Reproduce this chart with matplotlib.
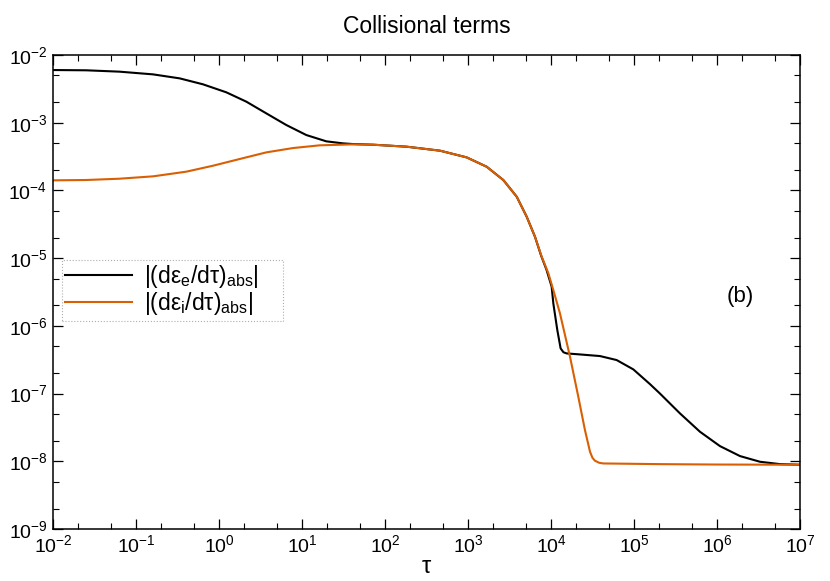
import numpy as np
import matplotlib
matplotlib.use("Agg")
import matplotlib.pyplot as plt
from matplotlib.ticker import LogLocator, NullFormatter

plt.rcParams['font.family'] = ['Liberation Sans', 'DejaVu Sans']
plt.rcParams['mathtext.fontset'] = 'custom'
plt.rcParams['mathtext.rm'] = 'Liberation Sans'
plt.rcParams['mathtext.it'] = 'Liberation Sans'
plt.rcParams['mathtext.bf'] = 'Liberation Sans:bold'

# Datos (log10 de tau y log10 del valor)
log_tau_e = [-2.0, -1.6, -1.2, -0.795, -0.474, -0.193, 0.088, 0.329, 0.570, 0.811,
             1.052, 1.293, 1.494, 1.614, 1.860, 2.261, 2.663, 2.984, 3.225, 3.426,
             3.587, 3.707, 3.807, 3.880, 3.947, 4.008, 4.028, 4.076, 4.116, 4.150,
             4.188, 4.349, 4.590, 4.791, 4.992, 5.192, 5.313, 5.554, 5.795, 6.036,
             6.277, 6.518, 6.759, 7.0]
log_e = [-2.222, -2.226, -2.246, -2.286, -2.345, -2.433, -2.551, -2.689, -2.862, -3.034,
         -3.182, -3.275, -3.305, -3.315, -3.325, -3.354, -3.413, -3.512, -3.650, -3.847,
         -4.093, -4.388, -4.684, -4.960, -5.176, -5.422, -5.668, -6.062, -6.333, -6.390,
         -6.407, -6.422, -6.446, -6.505, -6.643, -6.860, -7.000, -7.293, -7.564, -7.776,
         -7.923, -8.007, -8.042, -8.051]

log_tau_i = [-2.0, -1.6, -1.2, -0.795, -0.394, -0.072, 0.249, 0.570, 0.892, 1.213,
             1.614, 1.860, 2.261, 2.663, 2.984, 3.225, 3.426, 3.587, 3.707, 3.807,
             3.888, 3.967, 4.028, 4.108, 4.229, 4.329, 4.409, 4.470, 4.500, 4.530,
             4.580, 4.630, 5.313, 6.0, 7.0]
log_i = [-3.851, -3.846, -3.827, -3.792, -3.723, -3.635, -3.536, -3.438, -3.374, -3.334,
         -3.320, -3.325, -3.354, -3.413, -3.512, -3.650, -3.847, -4.093, -4.388, -4.684,
         -4.979, -5.220, -5.471, -5.816, -6.456, -7.047, -7.539, -7.859, -7.950, -7.992,
         -8.022, -8.032, -8.042, -8.048, -8.051]

label_e = r'$|(\mathrm{dε_e/dτ})_{\mathrm{abs}}|$'
label_i = r'$|(\mathrm{dε_i/dτ})_{\mathrm{abs}}|$'

tau_e = 10.0 ** np.array(log_tau_e)
val_e = 10.0 ** np.array(log_e)
tau_i = 10.0 ** np.array(log_tau_i)
val_i = 10.0 ** np.array(log_i)

fig = plt.figure(figsize=(8.3, 5.81), dpi=100)
ax = fig.add_axes([53 / 830, 1 - 529 / 581, 747 / 830, 474 / 581])

ax.plot(tau_e, val_e, color='black', lw=1.5, label=label_e)
ax.plot(tau_i, val_i, color='#d95f02', lw=1.5, label=label_i)

ax.set_xscale('log')
ax.set_yscale('log')
ax.set_xlim(1e-2, 1e7)
ax.set_ylim(1e-9, 1e-2)

for axis in (ax.xaxis, ax.yaxis):
    axis.set_major_locator(LogLocator(base=10, numticks=20))
    axis.set_minor_locator(LogLocator(base=10, subs=(2, 5), numticks=20))
    axis.set_minor_formatter(NullFormatter())

ax.tick_params(which='both', direction='in', top=True, right=True, labelsize=14)
ax.tick_params(which='major', length=7, width=0.9, pad=4)
ax.tick_params(which='minor', length=4, width=0.8)
for s in ax.spines.values():
    s.set_linewidth(1.1)

ax.set_title('Collisional terms', fontsize=16.5, pad=16)
ax.set_xlabel('τ', fontsize=17, labelpad=0)

# leyenda con marco punteado, ancho fijo como en la figura
leg = ax.legend(loc='lower left', bbox_to_anchor=(0.012, 0.439, 0.296, 0.124),
                mode='expand', fontsize=16.5, frameon=True, fancybox=False,
                borderpad=0.15, handlelength=2.9, handletextpad=0.55,
                labelspacing=0.0, borderaxespad=0)
leg.get_frame().set_edgecolor('#999999')
leg.get_frame().set_linestyle(':')
leg.get_frame().set_linewidth(0.8)

ax.text(0.92, 0.49, '(b)', transform=ax.transAxes, fontsize=16,
        ha='center', va='center')

fig.savefig('out.png', dpi=100)
